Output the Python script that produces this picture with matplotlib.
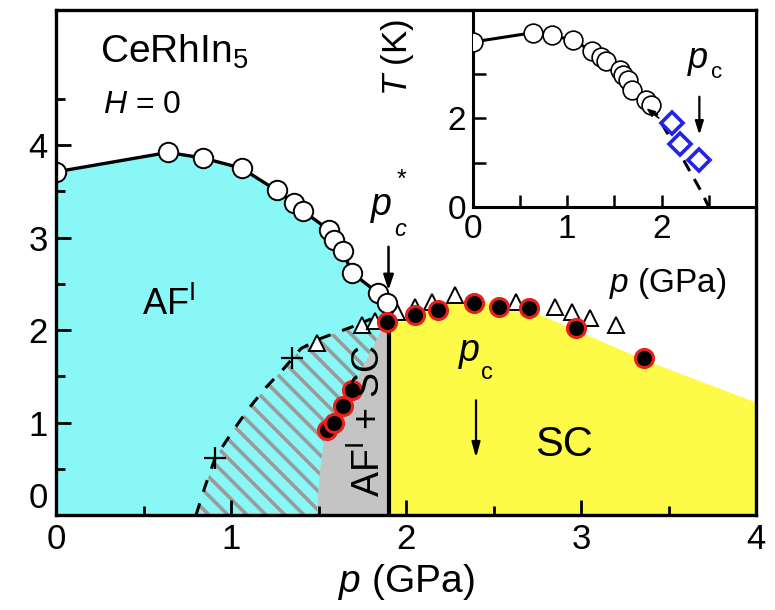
import numpy as np
import matplotlib
matplotlib.use("Agg")
import matplotlib.pyplot as plt
from matplotlib.patches import Polygon
from matplotlib.lines import Line2D
from matplotlib.ticker import MultipleLocator, FixedLocator

plt.rcParams['font.family'] = ['Liberation Sans', 'DejaVu Sans']
plt.rcParams['mathtext.fontset'] = 'custom'
plt.rcParams['mathtext.rm'] = 'Liberation Sans'
plt.rcParams['mathtext.it'] = 'Liberation Sans:italic'
plt.rcParams['mathtext.bf'] = 'Liberation Sans:bold'

# --- Néel temperature T_N (open circles, solid line) ---
p_neel = [0.0, 0.64, 0.84, 1.06, 1.26, 1.36, 1.41, 1.56, 1.59, 1.64, 1.69, 1.84, 1.89]
t_neel = [3.71, 3.92, 3.86, 3.75, 3.51, 3.37, 3.29, 3.08, 2.97, 2.85, 2.62, 2.40, 2.29]

# --- superconducting T_c (filled circles) ---
p_sc = [1.55, 1.59, 1.64, 1.69, 1.89, 2.05, 2.18, 2.39, 2.53, 2.70, 2.97, 3.36]
t_sc = [0.92, 1.00, 1.18, 1.35, 2.09, 2.16, 2.22, 2.29, 2.25, 2.24, 2.02, 1.70]

# --- resistive T_c (open triangles) ---
p_tri = [1.49, 1.75, 1.82, 1.95, 2.05, 2.15, 2.28, 2.63, 2.85, 2.95, 3.05, 3.20]
t_tri = [1.86, 2.05, 2.10, 2.20, 2.25, 2.30, 2.38, 2.30, 2.25, 2.20, 2.13, 2.05]

# --- crosses on the AF/SC coexistence boundary ---
p_cross = [0.91, 1.35]
t_cross = [0.62, 1.70]

# --- dashed boundary of the hatched region ---
p_dash = [0.80, 0.85, 0.91, 1.00, 1.10, 1.20, 1.30, 1.40, 1.50, 1.60, 1.70, 1.80]
t_dash = [0.00, 0.30, 0.62, 0.88, 1.15, 1.38, 1.58, 1.80, 1.90, 1.97, 2.04, 2.12]

# --- left edge of the AF + SC (grey) region ---
p_mix = [1.49, 1.51, 1.53, 1.58, 1.64, 1.70, 1.78, 1.86, 1.90]
t_mix = [0.00, 0.50, 0.80, 1.00, 1.20, 1.38, 1.70, 2.00, 2.05]

# --- upper edge of the SC (yellow) region ---
p_scb = [1.90, 2.05, 2.20, 2.40, 2.55, 2.70, 2.97, 3.36, 4.00]
t_scb = [2.05, 2.20, 2.28, 2.32, 2.28, 2.22, 2.00, 1.68, 1.22]

p_star = 1.90          # first-order boundary p_c*
p_crit = 2.40          # quantum critical pressure p_c

# --- inset: ac-calorimetry points and extrapolated T_N ---
p_ac = [2.11, 2.19, 2.40]
t_ac = [1.88, 1.42, 1.06]
p_ext = [1.89, 2.05, 2.17, 2.30, 2.42, 2.50]
t_ext = [2.29, 1.70, 1.30, 0.80, 0.35, 0.00]

CYAN = '#8af7f7'
YELLOW = '#fdfa48'
GREY = '#c4c4c4'
STRIPE = '#9a9a9a'

fig = plt.figure(figsize=(7.75, 6.10), dpi=100)
ax = fig.add_axes([0.0723, 0.1557, 0.9032, 0.8279])
ax.set_xlim(0, 4)
ax.set_ylim(0, 5.46)

# antiferromagnetic region
ax.fill_between(p_neel, 0, t_neel, color=CYAN, lw=0, zorder=1)

# hatched AF / SC coexistence wedge
wedge = Polygon(list(zip(p_dash, t_dash)) + list(zip(p_mix[::-1], t_mix[::-1])),
                closed=True, facecolor=CYAN, edgecolor='none', zorder=1.1)
ax.add_patch(wedge)
for c in np.arange(0.0, 16.0, 0.19):
    ln = Line2D([0, 8], [c, c - 8], transform=fig.dpi_scale_trans,
                color=STRIPE, lw=2.6, zorder=1.2, solid_capstyle='butt')
    ln.set_clip_path(wedge)
    ax.add_line(ln)

# AF + SC grey region
grey = Polygon(list(zip(p_mix, t_mix)) + [(p_star, 0.0)], closed=True,
               facecolor=GREY, edgecolor='none', zorder=1.3)
ax.add_patch(grey)

# superconducting region
ax.fill_between(p_scb, 0, t_scb, color=YELLOW, lw=0, zorder=1.3)

# phase boundaries
ax.plot([p_star, p_star], [0, t_mix[-1]], color='black', lw=3.0, zorder=3)
ax.plot(p_dash, t_dash, color='black', lw=2.2, ls=(0, (4, 4)), zorder=3)
ax.plot(p_neel, t_neel, color='black', lw=2.4, zorder=3)

# data points
ax.plot(p_neel, t_neel, 'o', ms=14, mfc='white', mec='black', mew=1.4, zorder=5)
ax.plot(p_tri, t_tri, '^', ms=12, mfc='white', mec='black', mew=1.4, zorder=4)
ax.plot(p_sc, t_sc, 'o', ms=13, mfc='black', mec='#e8201a', mew=2.2, zorder=6)
ax.plot(p_cross, t_cross, '+', ms=16, mec='black', mew=1.6, zorder=6)

# arrows
ax.annotate('', xy=(p_star, 2.43), xytext=(p_star, 2.90),
            arrowprops=dict(arrowstyle='-|>,head_length=0.9,head_width=0.3',
                            color='black', lw=1.8, shrinkA=0, shrinkB=0), zorder=7)
ax.annotate('', xy=(p_crit, 0.62), xytext=(p_crit, 1.24),
            arrowprops=dict(arrowstyle='-|>,head_length=0.9,head_width=0.25',
                            color='black', lw=1.6, shrinkA=0, shrinkB=0), zorder=7)

# labels
ax.text(0.25, 4.89, r'CeRhIn$_5$', fontsize=28, ha='left', va='baseline')
ax.text(0.27, 4.35, r'$H$ = 0', fontsize=23, ha='left', va='baseline')
ax.text(0.49, 2.16, r'AF$^{\rm I}$', fontsize=26, ha='left', va='baseline', zorder=8)
ax.text(2.74, 0.64, 'SC', fontsize=30, ha='left', va='baseline', zorder=8)
ax.text(1.79, 1.02, r'AF$^{\rm I}$ + SC', fontsize=27, rotation=90,
        ha='center', va='center', zorder=8)
# p_c* label
ax.text(1.80, 3.24, 'p', fontsize=27, style='italic', ha='left', va='baseline', zorder=8)
ax.text(1.935, 3.02, 'c', fontsize=17, style='italic', ha='left', va='baseline', zorder=8)
ax.text(1.945, 3.55, '*', fontsize=18, ha='left', va='baseline', zorder=8)
# p_c label
ax.text(2.30, 1.66, 'p', fontsize=27, style='italic', ha='left', va='baseline', zorder=8)
ax.text(2.43, 1.47, 'c', fontsize=17, ha='left', va='baseline', zorder=8)

ax.set_xlabel(r'$p$ (GPa)', fontsize=28, labelpad=4)
ax.xaxis.set_major_locator(MultipleLocator(1))
ax.xaxis.set_minor_locator(MultipleLocator(0.5))
ax.yaxis.set_major_locator(FixedLocator([0, 1, 2, 3, 4]))
ax.yaxis.set_minor_locator(FixedLocator([0.5, 1.5, 2.5, 3.5, 4.5]))
ax.tick_params(which='both', direction='in', top=False, right=False,
               labelsize=25, width=2.0)
ax.tick_params(which='major', length=11, pad=6)
ax.tick_params(which='minor', length=6.5)
# keep the y "0" clear of the x "0"
ax.yaxis.get_major_ticks()[0].label1.set_verticalalignment('bottom')
for s in ax.spines.values():
    s.set_linewidth(2.4)
    s.set_zorder(9)

# --- inset ---
axi = fig.add_axes([0.610, 0.6607, 0.3655, 0.3229])
axi.set_facecolor('white')
axi.set_xlim(0, 3.0)
axi.set_ylim(0, 4.43)
axi.plot(p_neel, t_neel, color='black', lw=2.2, zorder=3)
axi.plot(p_ext, t_ext, color='black', lw=2.2, ls=(0, (4, 3)), zorder=3)
axi.plot(p_neel, t_neel, 'o', ms=13.5, mfc='white', mec='black', mew=1.2, zorder=5)
axi.plot(p_ac, t_ac, 'D', ms=11, mfc='white', mec='#2323e6', mew=2.6, zorder=6)
axi.annotate('', xy=(1.84, 2.22), xytext=(1.97, 2.00),
             arrowprops=dict(arrowstyle='-|>,head_length=0.5,head_width=0.2',
                             color='black', lw=1.2, shrinkA=0, shrinkB=0), zorder=7)
axi.annotate('', xy=(p_crit, 1.62), xytext=(p_crit, 2.48),
             arrowprops=dict(arrowstyle='-|>,head_length=0.8,head_width=0.25',
                             color='black', lw=1.6, shrinkA=0, shrinkB=0), zorder=7)
axi.text(2.28, 3.12, 'p', fontsize=26, style='italic', ha='left', va='baseline')
axi.text(2.52, 2.90, 'c', fontsize=16, ha='left', va='baseline')

axi.xaxis.set_major_locator(FixedLocator([0, 1, 2]))
axi.xaxis.set_minor_locator(FixedLocator([0.5, 1.5, 2.5]))
axi.yaxis.set_major_locator(FixedLocator([0, 2]))
axi.yaxis.set_minor_locator(FixedLocator([1, 3]))
axi.tick_params(which='both', direction='in', top=False, right=False,
                labelsize=24, width=1.8)
axi.tick_params(which='major', length=9, pad=5)
axi.tick_params(which='minor', length=9)
axi.set_xlabel(r'$p$ (GPa)', fontsize=24)
axi.xaxis.set_label_coords(0.69, -0.30)
axi.set_ylabel(r'$T$ (K)', fontsize=25)
axi.yaxis.set_label_coords(-0.20, 0.76)
for s in axi.spines.values():
    s.set_linewidth(2.2)

fig.savefig('out.png', dpi=100)
